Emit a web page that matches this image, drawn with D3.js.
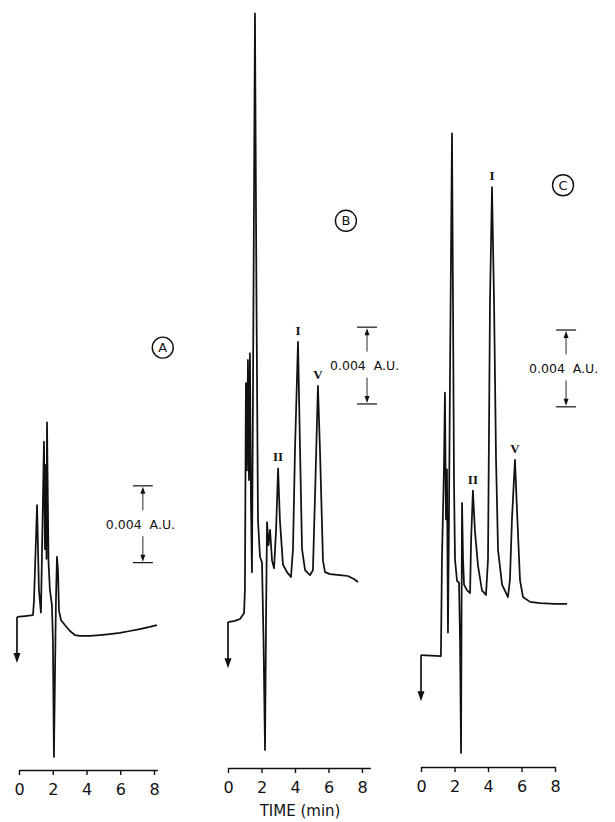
<!DOCTYPE html>
<html>
<head>
<meta charset="utf-8">
<script src="https://cdn.jsdelivr.net/npm/d3@7"></script>
<style>
    body { margin: 0; background: #fff; }
    svg text { font-family: "DejaVu Sans", "Liberation Sans", sans-serif; fill: #111; }
    .peak { font-family: "Liberation Serif", "DejaVu Serif", serif !important; }
</style>
</head>
<body>
<div id="chart"></div>
<script>
    // time in min, absorbance in mAU (1 scale bar = 0.004 A.U. = 4 mAU)
    const timeTicks = [0, 2, 4, 6, 8];

    const timeA = [-0.12, 0.36, 0.83, 0.89, 1.07, 1.18, 1.30, 1.48, 1.54, 1.60, 1.63, 1.66, 1.75, 1.83, 1.95, 2.01, 2.07, 2.16, 2.19, 2.25, 2.31, 2.37, 2.49, 2.72, 3.02, 3.31, 3.61, 4.20, 4.79, 5.38, 5.98, 6.57, 7.16, 7.75, 8.17];
    const absA = [7.97, 8.02, 8.07, 8.85, 13.8, 9.4, 8.2, 17.1, 11.5, 15.9, 11.0, 18.1, 10.8, 9.4, 8.6, 6.8, 0.68, 6.8, 8.85, 11.1, 10.4, 8.3, 7.8, 7.55, 7.24, 7.03, 6.98, 6.98, 7.03, 7.08, 7.14, 7.24, 7.34, 7.45, 7.55];

    const timeB = [0, 0.42, 0.72, 0.96, 1.01, 1.07, 1.13, 1.19, 1.25, 1.31, 1.37, 1.43, 1.49, 1.61, 1.70, 1.79, 1.91, 2.03, 2.12, 2.21, 2.27, 2.33, 2.42, 2.51, 2.63, 2.75, 2.87, 2.99, 3.10, 3.28, 3.52, 3.76, 3.88, 4.00, 4.18, 4.30, 4.42, 4.60, 4.90, 5.07, 5.19, 5.37, 5.49, 5.67, 5.79, 6.09, 6.69, 7.16, 7.52, 7.76];
    const absB = [7.6, 7.66, 7.76, 8.07, 9.27, 20.05, 15.5, 21.25, 15.0, 21.6, 14.0, 10.2, 19.2, 39.3, 24.4, 12.9, 11.0, 10.7, 6.67, 0.94, 7.7, 12.8, 11.6, 12.4, 10.8, 10.4, 12.4, 15.6, 12.9, 10.6, 10.2, 9.95, 11.4, 16.6, 22.2, 16.6, 11.4, 10.3, 10.05, 10.3, 14.0, 19.9, 16.6, 10.8, 10.2, 10.1, 10.05, 10.0, 9.84, 9.69];

    const timeC = [0, 1.19, 1.25, 1.37, 1.43, 1.49, 1.55, 1.61, 1.67, 1.73, 1.85, 1.91, 1.97, 2.03, 2.15, 2.27, 2.33, 2.39, 2.42, 2.45, 2.51, 2.57, 2.75, 2.93, 2.99, 3.10, 3.22, 3.40, 3.64, 3.88, 4.00, 4.12, 4.24, 4.36, 4.48, 4.60, 4.84, 5.19, 5.31, 5.43, 5.61, 5.73, 5.91, 6.09, 6.51, 7.10, 7.99, 8.72];
    const absC = [5.83, 5.78, 10.8, 15.5, 19.5, 12.9, 15.5, 7.0, 12.9, 20.2, 33.0, 24.3, 14.9, 10.8, 9.7, 9.6, 6.6, 0.73, 7.65, 13.75, 10.8, 9.5, 9.2, 9.06, 11.8, 14.4, 12.3, 10.5, 9.2, 8.96, 10.8, 24.3, 30.2, 24.3, 16.0, 11.3, 9.5, 8.85, 9.74, 12.9, 16.0, 13.4, 9.74, 8.85, 8.6, 8.54, 8.49, 8.49];

    const peakNames = ["I", "II", "V"];
    const peakTimeB = [4.18, 2.99, 5.37];
    const peakAbsB = [22.2, 15.6, 19.9];
    const peakTimeC = [4.24, 3.10, 5.61];
    const peakAbsC = [30.2, 14.4, 16.0];

    const scaleLabel = "0.004  A.U.";
    const scaleSpan = 4;

    const width = 615, height = 822;
    const pxPerUnit = 19.2;

    // panel placement (pixels), labels are placed in data units
    const panels = [
        { name: "A", time: timeA, abs: absA, x0: 19, x8: 154, axisY: 770, axisEnd: 8.2,
          circle: [8.52, 22.0], bar: [7.34, 10.8], peaks: null },
        { name: "B", time: timeB, abs: absB, x0: 228, x8: 362, axisY: 768, axisEnd: 8.5,
          circle: [7.04, 28.5], bar: [8.3, 18.96], peaks: [peakTimeB, peakAbsB] },
        { name: "C", time: timeC, abs: absC, x0: 421, x8: 555, axisY: 767, axisEnd: 8.0,
          circle: [8.48, 30.3], bar: [8.66, 18.76], peaks: [peakTimeC, peakAbsC] }
    ];

    const svg = d3.select("#chart").append("svg")
        .attr("width", width)
        .attr("height", height);

    panels.forEach(p => {
        const x = d3.scaleLinear().domain([0, 8]).range([p.x0, p.x8]);
        const y = d3.scaleLinear().domain([0, 40]).range([p.axisY, p.axisY - 40 * pxPerUnit]);
        const g = svg.append("g");

        const pts = p.time.map((t, i) => [t, p.abs[i]]);
        const line = d3.line().x(d => x(d[0])).y(d => y(d[1]));

        g.append("path")
            .attr("d", line(pts))
            .attr("fill", "none")
            .attr("stroke", "#111")
            .attr("stroke-width", 1.75)
            .attr("stroke-linejoin", "round");

        // injection arrow at start
        const sx = x(pts[0][0]), sy = y(pts[0][1]), ey = y(pts[0][1] - 2.4);
        g.append("line")
            .attr("x1", sx).attr("x2", sx)
            .attr("y1", sy).attr("y2", ey - 6)
            .attr("stroke", "#111").attr("stroke-width", 1.7);
        g.append("path")
            .attr("d", `M${sx - 3.5},${ey - 10}L${sx + 3.5},${ey - 10}L${sx},${ey}Z`)
            .attr("fill", "#111");

        // time axis
        const xa = x.copy().domain([0, p.axisEnd]).range([x(0), x(p.axisEnd)]);
        const axis = g.append("g")
            .attr("transform", `translate(0,${p.axisY})`)
            .call(d3.axisBottom(xa).tickValues(timeTicks).tickSize(5).tickSizeOuter(0));
        axis.select(".domain").attr("stroke", "#111").attr("stroke-width", 1.4);
        axis.selectAll(".tick line").attr("stroke", "#111").attr("stroke-width", 1.4);
        axis.selectAll(".tick text")
            .attr("y", 14)
            .style("font-size", "16px")
            .style("font-family", "'DejaVu Sans', sans-serif")
            .attr("fill", "#111");

        // circled panel letter
        const cx = x(p.circle[0]), cy = y(p.circle[1]);
        g.append("circle")
            .attr("cx", cx).attr("cy", cy).attr("r", 10.5)
            .attr("fill", "none").attr("stroke", "#111").attr("stroke-width", 1.4);
        g.append("text")
            .attr("x", cx).attr("y", cy)
            .attr("text-anchor", "middle")
            .attr("dominant-baseline", "central")
            .style("font-size", "13px")
            .text(p.name);

        // 0.004 A.U. scale bar
        const bx = x(p.bar[0]);
        const yb = y(p.bar[1]), yt = y(p.bar[1] + scaleSpan);
        const ym = (yb + yt) / 2;
        [yt, yb].forEach(v => {
            g.append("line")
                .attr("x1", bx - 10).attr("x2", bx + 10)
                .attr("y1", v).attr("y2", v)
                .attr("stroke", "#111").attr("stroke-width", 1.2);
        });
        g.append("line")
            .attr("x1", bx).attr("x2", bx).attr("y1", yt + 6).attr("y2", ym - 14)
            .attr("stroke", "#111").attr("stroke-width", 0.9);
        g.append("line")
            .attr("x1", bx).attr("x2", bx).attr("y1", ym + 12).attr("y2", yb - 6)
            .attr("stroke", "#111").attr("stroke-width", 0.9);
        g.append("path")
            .attr("d", `M${bx},${yt + 1}L${bx - 2.5},${yt + 8}L${bx + 2.5},${yt + 8}Z`)
            .attr("fill", "#111");
        g.append("path")
            .attr("d", `M${bx},${yb - 1}L${bx - 2.5},${yb - 8}L${bx + 2.5},${yb - 8}Z`)
            .attr("fill", "#111");
        g.append("text")
            .attr("x", bx - 37).attr("y", ym)
            .attr("dominant-baseline", "central")
            .attr("xml:space", "preserve")
            .style("font-size", "12.5px")
            .text(scaleLabel);

        // peak labels
        if (p.peaks) {
            peakNames.forEach((n, i) => {
                g.append("text")
                    .attr("class", "peak")
                    .attr("x", x(p.peaks[0][i]))
                    .attr("y", y(p.peaks[1][i]) - 7)
                    .attr("text-anchor", "middle")
                    .style("font-size", "13px")
                    .style("font-weight", "bold")
                    .text(n);
            });
        }

        if (p.name === "B") {
            g.append("text")
                .attr("x", x(4.3)).attr("y", p.axisY + 48)
                .attr("text-anchor", "middle")
                .style("font-size", "15px")
                .text("TIME (min)");
        }
    });
</script>
</body>
</html>
